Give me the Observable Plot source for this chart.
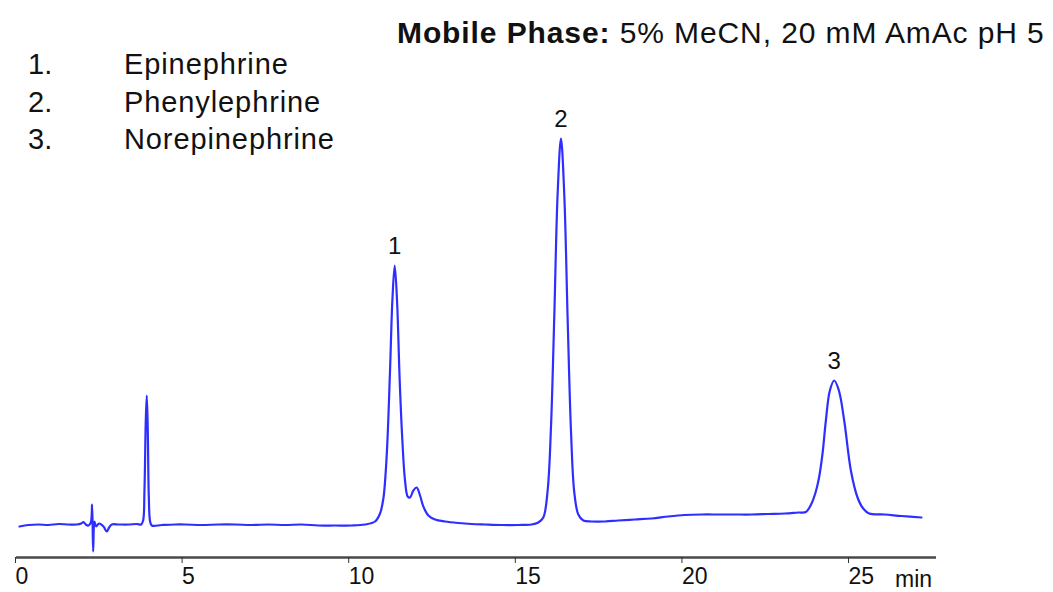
<!DOCTYPE html>
<html>
<head>
<meta charset="utf-8">
<script src="https://cdn.jsdelivr.net/npm/d3@7"></script>
<script src="https://cdn.jsdelivr.net/npm/@observablehq/plot@0.6"></script>
<style>
  html, body { margin: 0; padding: 0; background: #fff; }
  #wrap { position: relative; width: 1053px; height: 592px; font-family: "Liberation Sans", Arial, sans-serif; color: #111; }
  #wrap svg { position: absolute; left: 0; top: 0; }
  .ov { position: absolute; white-space: nowrap; line-height: 1; }
</style>
</head>
<body>
<div id="wrap"></div>
<script>
// Retention time (min) and detector signal (arbitrary units)
const time = [
  0.03, 0.3, 0.6, 0.9, 1.2, 1.5, 1.75, 1.88, 1.95, 2.02, 2.1, 2.17, 2.21, 2.24, 2.28, 2.33, 2.42, 2.55, 2.65, 2.72, 2.8,
  3.0, 3.3, 3.55, 3.68, 3.74, 3.78, 3.82, 3.85, 3.88, 3.91, 3.95, 4.0, 4.3, 4.7, 5.0, 5.5, 6.0, 6.5, 7.0, 7.5, 8.0, 8.5,
  9.0, 9.5, 10.0, 10.4, 10.7, 10.85, 10.95, 11.05, 11.15, 11.22, 11.29, 11.36, 11.44, 11.52, 11.6, 11.68, 11.75, 11.85,
  11.95, 12.05, 12.15, 12.3, 12.5, 12.8, 13.2, 13.6, 14.0, 14.5, 15.0, 15.4, 15.6, 15.75, 15.88, 15.98, 16.08, 16.18,
  16.28, 16.38, 16.48, 16.58, 16.68, 16.8, 16.95, 17.2, 17.6, 18.0, 18.5, 19.0, 19.5, 20.0, 20.5, 21.0, 21.5, 22.0,
  22.5, 23.0, 23.4, 23.63, 23.8, 23.92, 24.02, 24.13, 24.23, 24.35, 24.48, 24.62, 24.78, 24.98, 25.18, 25.35, 25.53,
  26.0, 26.5, 27.1
];
const signal = [
  31, 32.5, 33, 32.5, 33.5, 33, 33, 34, 35.5, 33, 32, 35, 53, 6, 36, 31, 34, 31, 26, 30, 33,
  33, 33, 33.5, 33, 37, 67, 137, 162, 127, 62, 36, 32, 32.5, 33, 33, 32.5, 33, 33, 32.5, 33, 32.5, 33,
  32, 32, 32, 33, 36, 44, 59, 102, 187, 257, 292, 257, 177, 117, 77, 61, 60, 67,
  70, 62, 51, 42, 38, 36, 34.5, 33.5, 33, 32.5, 32.5, 33, 35, 40, 67, 130, 242, 364,
  419, 362, 239, 127, 65, 43, 37, 36, 36, 37, 38, 39, 41, 42.5, 43, 43, 43, 43,
  43.5, 44, 45, 45.5, 54, 65, 79, 104, 137, 167, 177, 167, 137, 87, 60, 49, 44,
  43, 41.5, 40
];

// Peak annotations
const peakLabel = ["1", "2", "3"];
const peakTime = [11.29, 16.28, 24.48];
const peakSignal = [292, 419, 177];

// Compound list
const compoundNumber = ["1.", "2.", "3."];
const compoundName = ["Epinephrine", "Phenylephrine", "Norepinephrine"];

// Axis ticks
const xTicks = [0, 5, 10, 15, 20, 25];
const xUnit = "min";

const trace = time.map((t, i) => ({t, s: signal[i]}));
const peaks = peakLabel.map((l, i) => ({label: l, t: peakTime[i], s: peakSignal[i]}));

const chart = Plot.plot({
  width: 1053,
  height: 592,
  marginLeft: 16,
  marginRight: 117,
  marginTop: 0,
  marginBottom: 35,
  style: {background: "transparent", fontFamily: "'Liberation Sans', Arial, sans-serif", color: "#111"},
  x: {domain: [-0.06, 27.55]},
  y: {domain: [0, 557], axis: null},
  marks: [
    Plot.line(trace, {x: "t", y: "s", stroke: "#2e2eff", strokeWidth: 2.2, curve: "catmull-rom"}),
    Plot.ruleY([0], {stroke: "#4a4a4a", strokeWidth: 2.5}),
    Plot.axisX({ticks: xTicks, tickSize: 6, tickPadding: 4, textAnchor: "start", dx: -3, fontSize: 23, label: null, stroke: "#333", fill: "#111"}),
    Plot.text(peaks, {x: "t", y: "s", text: "label", dy: -12, lineAnchor: "bottom", fontSize: 24, fill: "#111"})
  ]
});

const wrap = document.getElementById("wrap");
wrap.appendChild(chart);

function ov(text, left, top, size, extra) {
  const d = document.createElement("div");
  d.className = "ov";
  d.style.left = left + "px";
  d.style.top = top + "px";
  d.style.fontSize = size + "px";
  if (extra) Object.assign(d.style, extra);
  d.innerHTML = text;
  wrap.appendChild(d);
  return d;
}

ov("<b>Mobile Phase:</b> 5% MeCN, 20 mM AmAc pH 5", 397, 18, 30, {letterSpacing: "0.9px"});
compoundNumber.forEach((n, i) => {
  ov(n, 28, 50 + i * 37.5, 29);
  ov(compoundName[i], 124, 50 + i * 37.5, 29, {letterSpacing: "0.9px"});
});
ov(xUnit, 895, 568, 23);
</script>
</body>
</html>
